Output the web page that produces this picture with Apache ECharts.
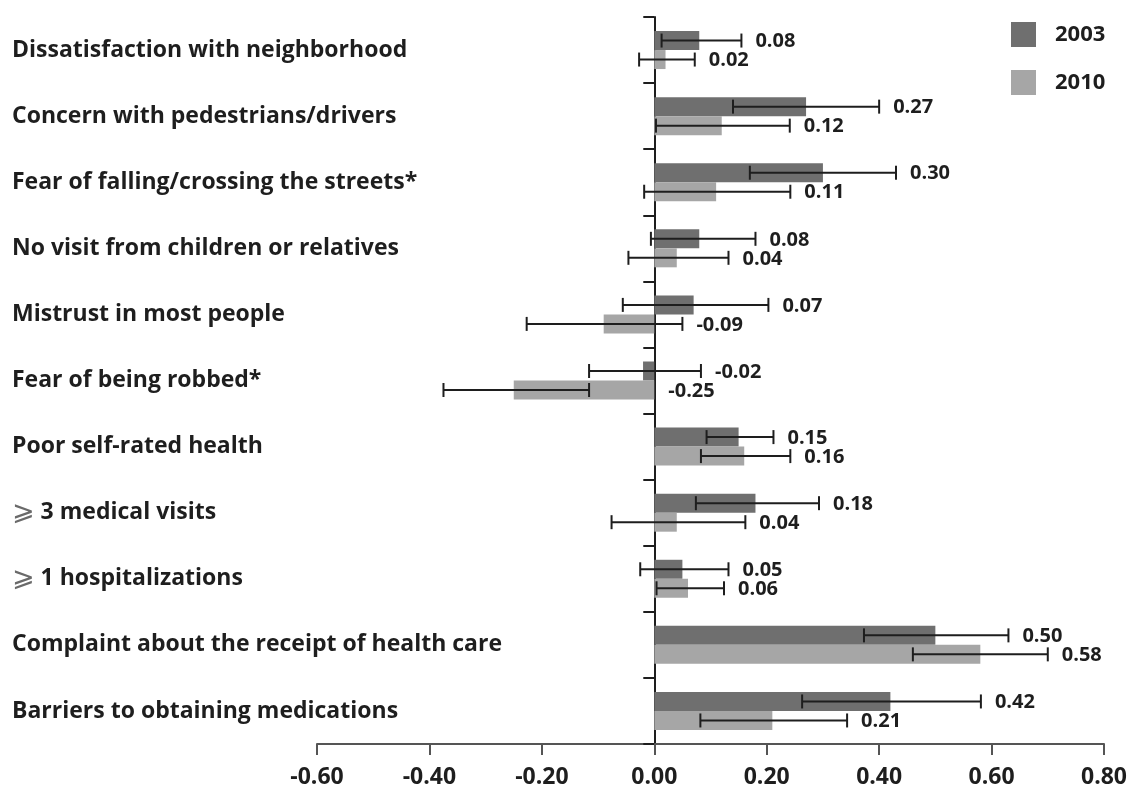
<!DOCTYPE html>
<html>
<head>
<meta charset="utf-8">
<style>
  html, body { margin: 0; padding: 0; background: #fff; }
  #chart { width: 1131px; height: 788px; }
</style>
<script src="https://cdn.jsdelivr.net/npm/echarts@6/dist/echarts.min.js"></script>
</head>
<body>
<div id="chart"></div>
<script>
// Outcome categories, top to bottom
const categories = [
  'Dissatisfaction with neighborhood',
  'Concern with pedestrians/drivers',
  'Fear of falling/crossing the streets*',
  'No visit from children or relatives',
  'Mistrust in most people',
  'Fear of being robbed*',
  'Poor self-rated health',
  '⩾ 3 medical visits',
  '⩾ 1 hospitalizations',
  'Complaint about the receipt of health care',
  'Barriers to obtaining medications'
];

const years = ['2003', '2010'];

// Point estimates
const value2003 = [0.08, 0.27, 0.30, 0.08, 0.07, -0.02, 0.15, 0.18, 0.05, 0.50, 0.42];
const value2010 = [0.02, 0.12, 0.11, 0.04, -0.09, -0.25, 0.16, 0.04, 0.06, 0.58, 0.21];

// Confidence interval bounds
const low2003  = [0.013, 0.14, 0.17, -0.006, -0.056, -0.116, 0.093, 0.074, -0.025, 0.373, 0.263];
const high2003 = [0.155, 0.40, 0.43, 0.18, 0.203, 0.083, 0.212, 0.293, 0.132, 0.63, 0.581];
const low2010  = [-0.027, 0.003, -0.018, -0.046, -0.227, -0.375, 0.083, -0.076, 0.004, 0.46, 0.082];
const high2010 = [0.072, 0.241, 0.242, 0.132, 0.05, -0.116, 0.242, 0.162, 0.124, 0.70, 0.343];

// Value axis ticks
const xTicks = { min: -0.6, max: 0.8, step: 0.2 };

const BAR_W = 19;
const FONT = '"Open Sans", "Liberation Sans", sans-serif';
const INK = '#1e1e1e';
const COLORS = { '2003': '#6f6f6f', '2010': '#a6a6a6' };

// Error bar + value label for one year; side -1 = upper bar of the pair, +1 = lower bar
function errorSeries(year, values, lows, highs, side) {
  return {
    type: 'custom',
    name: 'ci-' + year,
    z: 5,
    silent: true,
    data: values.map((v, i) => [i, lows[i], highs[i], v]),
    encode: { x: [1, 2], y: 0 },
    renderItem(params, api) {
      const cat = api.value(0);
      const lo = api.coord([api.value(1), cat]);
      const hi = api.coord([api.value(2), cat]);
      const zero = api.coord([0, cat]);
      const y = lo[1] + side * BAR_W / 2;
      const cap = 7;
      const line = { stroke: INK, lineWidth: 2 };
      const labelX = Math.max(hi[0], zero[0]) + 14;
      return {
        type: 'group',
        children: [
          { type: 'line', shape: { x1: lo[0], y1: y, x2: hi[0], y2: y }, style: line },
          { type: 'line', shape: { x1: lo[0], y1: y - cap, x2: lo[0], y2: y + cap }, style: line },
          { type: 'line', shape: { x1: hi[0], y1: y - cap, x2: hi[0], y2: y + cap }, style: line },
          {
            type: 'text',
            style: {
              x: labelX, y: y + 1,
              text: api.value(3).toFixed(2),
              fill: INK,
              font: 'bold 20px ' + FONT,
              align: 'left',
              verticalAlign: 'middle'
            }
          }
        ]
      };
    }
  };
}

const chart = echarts.init(document.getElementById('chart'), null, { renderer: 'canvas' });

chart.setOption({
  animation: false,
  backgroundColor: '#ffffff',
  grid: { left: 317, right: 27, top: 17, bottom: 44, containLabel: false, outerBoundsMode: 'none' },
  legend: {
    data: years,
    orient: 'vertical',
    left: 1006,
    top: 17,
    itemWidth: 25,
    itemHeight: 25,
    itemGap: 23,
    icon: 'rect',
    selectedMode: false,
    textStyle: {
      fontFamily: FONT, fontWeight: 'bold', fontSize: 22, color: INK,
      padding: [0, 0, 0, 14]
    }
  },
  xAxis: {
    type: 'value',
    min: xTicks.min,
    max: xTicks.max,
    interval: xTicks.step,
    splitLine: { show: false },
    axisLine: { show: true, lineStyle: { color: '#555', width: 2 } },
    axisTick: { show: true, length: 11, lineStyle: { color: '#555', width: 2 } },
    axisLabel: {
      margin: 22,
      formatter: v => v.toFixed(2),
      fontFamily: FONT, fontWeight: 'bold', fontSize: 23, color: INK
    }
  },
  yAxis: {
    type: 'category',
    data: categories,
    inverse: true,
    axisLine: { show: true, onZero: true, lineStyle: { color: INK, width: 2 } },
    axisTick: { show: true, length: 11, lineStyle: { color: INK, width: 2 } },
    splitLine: { show: false },
    axisLabel: {
      align: 'left',
      margin: 305,
      fontFamily: FONT, fontWeight: 'bold', fontSize: 23, color: INK,
      formatter: s => s.startsWith('⩾') ? '{ge|⩾}' + s.slice(1) : s,
      rich: {
        ge: { fontFamily: '"DejaVu Sans", sans-serif', fontWeight: 'normal', fontSize: 27, color: '#6a6a6a' }
      }
    }
  },
  series: [
    {
      type: 'bar', name: '2003', data: value2003,
      barWidth: BAR_W, barGap: '0%',
      itemStyle: { color: COLORS['2003'] }
    },
    {
      type: 'bar', name: '2010', data: value2010,
      barWidth: BAR_W, barGap: '0%',
      itemStyle: { color: COLORS['2010'] }
    },
    errorSeries('2003', value2003, low2003, high2003, -1),
    errorSeries('2010', value2010, low2010, high2010, 1)
  ]
});
</script>
</body>
</html>
